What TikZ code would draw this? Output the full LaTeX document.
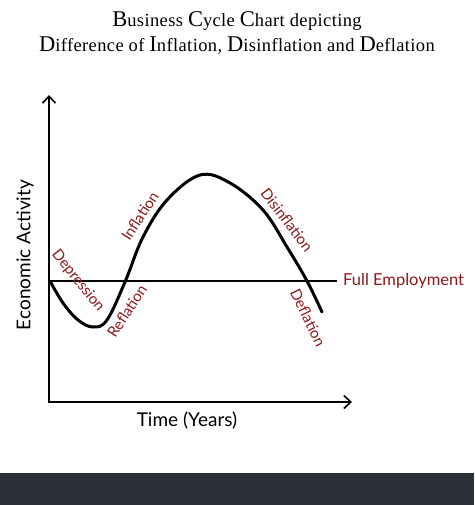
\documentclass[tikz,border=0pt]{standalone}
\usepackage{fontspec}
\setmainfont[Ligatures=NoCommon,LetterSpace=2]{Liberation Serif}
\newfontfamily\chartfont{Lato}
\usetikzlibrary{positioning,arrows.meta}
\definecolor{phasered}{HTML}{8B1A1A}
\definecolor{footergray}{HTML}{2B3038}
\newcommand{\titlecap}[1]{{\fontsize{22.5}{25}\selectfont #1}}

\begin{document}
\begin{tikzpicture}[x=1pt,y=-1pt,
			>={Straight Barb[length=7pt,width=13pt,line width=1.6pt]},
			axis/.style={line width=2.4pt,line cap=round},
			cycle/.style={line width=3pt,line cap=round},
			phase/.style={
				text=phasered,
				inner sep=0pt,
				font=\chartfont\fontsize{15}{15}\selectfont
			},
			axislabel/.style={
				font=\chartfont\fontsize{19}{19}\selectfont
			}]
			
			\useasboundingbox (0,0) rectangle (474,505);
			
			\fill[white] (0,0) rectangle (474,505);
			
			\fill[footergray] (0,473) rectangle (474,505);
			
			\node[align=center,font=\fontsize{18.5}{25}\selectfont] (title) at (237,33)
			{\titlecap{B}usiness \titlecap{C}ycle \titlecap{C}hart depicting\\
			\titlecap{D}ifference of \titlecap{I}nflation, \titlecap{D}isinflation and \titlecap{D}eflation};
			
			\coordinate (origin) at (49,402);
			
			\coordinate (ytop) at (49,95);
			
			\coordinate (xend) at (352,402);
			
			\coordinate (fullstart) at (49,281);
			
			\draw[axis,<->](ytop)--(origin)--(xend);
			
			\node[axislabel,rotate=90] (activity) at (25,255){Economic Activity};
			
			\node[axislabel] (time) at (187,421){Time (Years)};
			
			\node[phase,anchor=west,font=\chartfont\fontsize{16.5}{16.5}\selectfont] (full) at (343,281){Full Employment};
			
			\draw[line width=2pt](fullstart)--(337,281);
			
			% business cycle
			\draw[cycle] plot[smooth,tension=0.6] coordinates {(50,281) (63,303) (78,320) (93,327) (107,320) (125,282) (143,237) (167,200) (200,175) (230,183) (263,210) (287,247) (307,281) (322,312)};
			
			\node[phase,rotate=-51] (depression) at (78,281){Depression};
			
			\node[phase,rotate=57] (inflation) at (140,216){Inflation};
			
			\node[phase,rotate=57] (reflation) at (127,311){Reflation};
			
			\node[phase,rotate=-53] (disinflation) at (287,220){Disinflation};
			
			\node[phase,rotate=-64] (deflation) at (308,318){Deflation};
			
		\end{tikzpicture}
\end{document}
